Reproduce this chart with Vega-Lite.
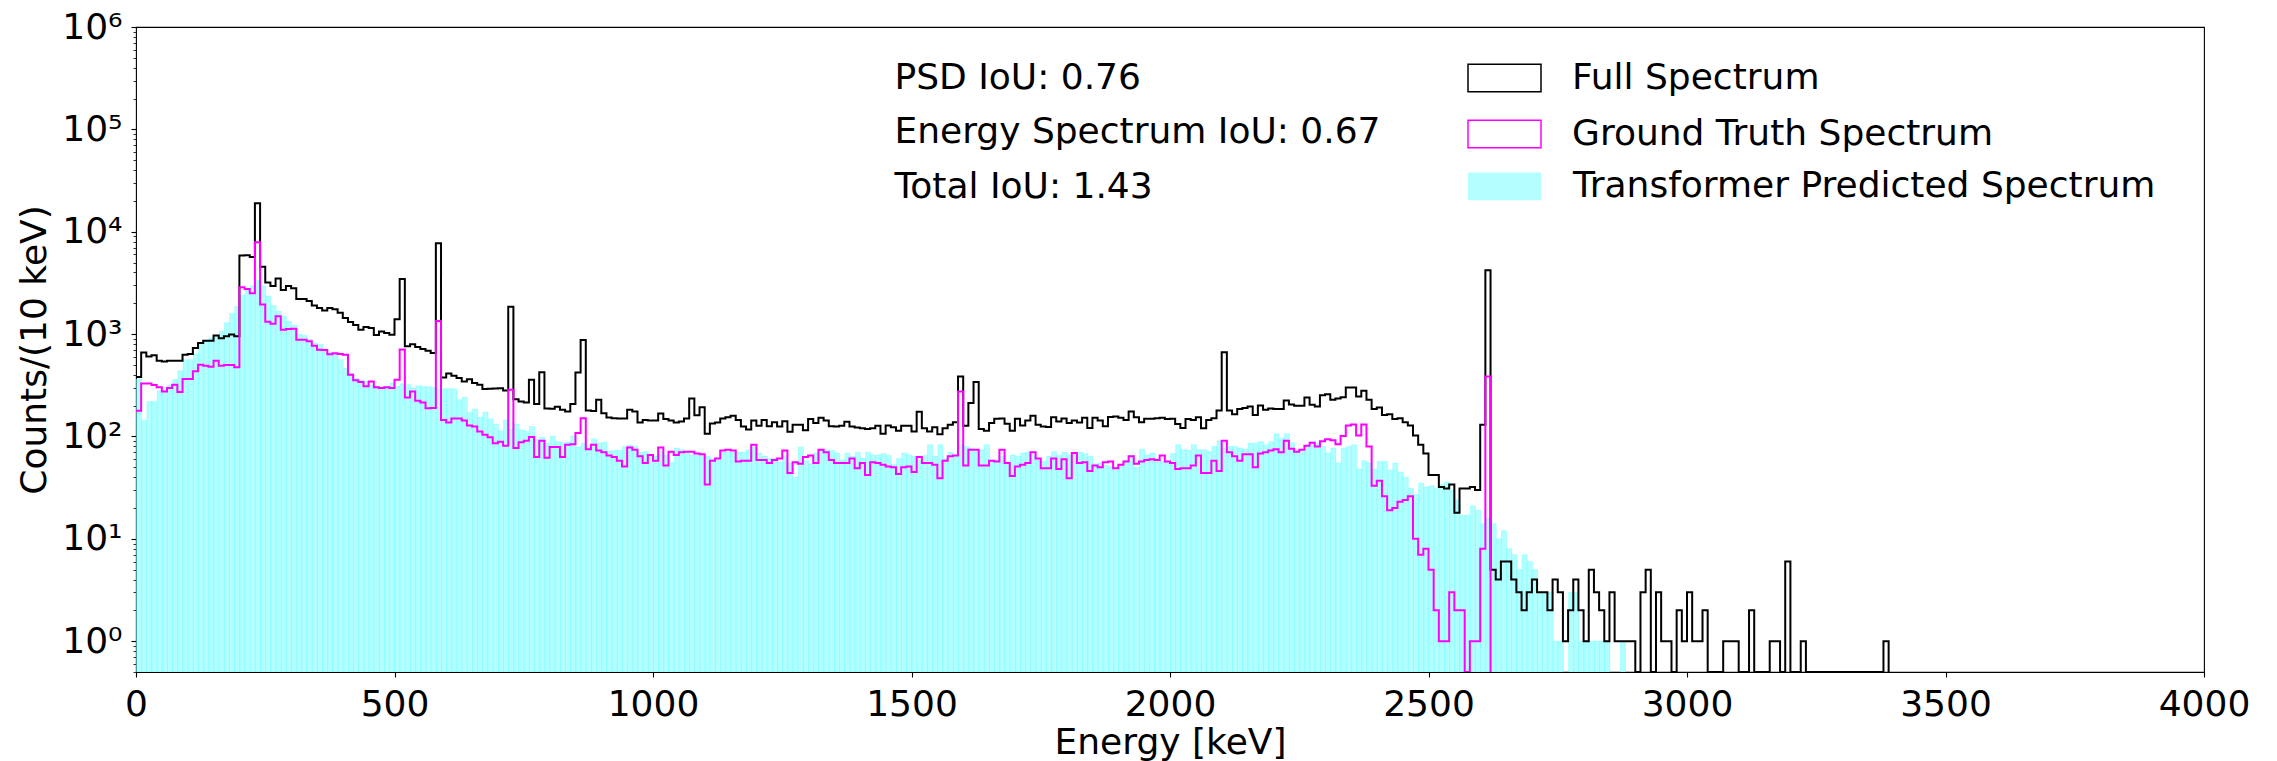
{
"$schema": "https://vega.github.io/schema/vega-lite/v6.json",
"width": 2068, "height": 645,
"autosize": {"type": "none"},
"padding": {"left": 136, "top": 27, "right": 73, "bottom": 89},
"background": "white",
"config": {
  "font": "DejaVu Sans",
  "view": {"stroke": "black", "strokeWidth": 1.1},
  "axis": {"grid": false, "domain": false, "tickColor": "black", "tickWidth": 1.1, "labelColor": "black", "titleColor": "black", "labelFont": "DejaVu Sans", "titleFont": "DejaVu Sans", "labelFontSize": 36, "titleFontSize": 36, "titleFontWeight": "normal"},
  "legend": {"labelFontSize": 36, "labelFont": "DejaVu Sans", "labelColor": "black", "labelLimit": 1000, "padding": 0}
},
"datasets": {
"full": [
{"e":0,"n":380},{"e":10,"n":660},{"e":20,"n":605},{"e":30,"n":620},{"e":40,"n":550},{"e":50,"n":540},{"e":60,"n":550},{"e":70,"n":550},{"e":80,"n":550},{"e":90,"n":630},
{"e":100,"n":640},{"e":110,"n":730},{"e":120,"n":820},{"e":130,"n":860},{"e":140,"n":860},{"e":150,"n":970},{"e":160,"n":910},{"e":170,"n":950},{"e":180,"n":990},{"e":190,"n":950},
{"e":200,"n":5850},{"e":210,"n":5900},{"e":220,"n":5650},{"e":230,"n":19000},{"e":240,"n":4550},{"e":250,"n":3200},{"e":260,"n":2950},{"e":270,"n":3500},{"e":280,"n":2700},{"e":290,"n":2950},
{"e":300,"n":2800},{"e":310,"n":2200},{"e":320,"n":2200},{"e":330,"n":2100},{"e":340,"n":1900},{"e":350,"n":1800},{"e":360,"n":1700},{"e":370,"n":1800},{"e":380,"n":1750},{"e":390,"n":1620},
{"e":400,"n":1440},{"e":410,"n":1310},{"e":420,"n":1230},{"e":430,"n":1100},{"e":440,"n":1170},{"e":450,"n":1150},{"e":460,"n":980},{"e":470,"n":1060},{"e":480,"n":1025},{"e":490,"n":987},
{"e":500,"n":1400},{"e":510,"n":3460},{"e":520,"n":759},{"e":530,"n":794},{"e":540,"n":747},{"e":550,"n":714},{"e":560,"n":688},{"e":570,"n":653},{"e":580,"n":7720},{"e":590,"n":377},
{"e":600,"n":413},{"e":610,"n":392},{"e":620,"n":372},{"e":630,"n":345},{"e":640,"n":363},{"e":650,"n":332},{"e":660,"n":320},{"e":670,"n":290},{"e":680,"n":292},{"e":690,"n":294},
{"e":700,"n":296},{"e":710,"n":281},{"e":720,"n":1854},{"e":730,"n":231},{"e":740,"n":220},{"e":750,"n":215},{"e":760,"n":358},{"e":770,"n":207},{"e":780,"n":425},{"e":790,"n":188},
{"e":800,"n":187},{"e":810,"n":195},{"e":820,"n":182},{"e":830,"n":175},{"e":840,"n":207},{"e":850,"n":422},{"e":860,"n":875},{"e":870,"n":179},{"e":880,"n":177},{"e":890,"n":228},
{"e":900,"n":169},{"e":910,"n":153},{"e":920,"n":151},{"e":930,"n":150},{"e":940,"n":150},{"e":950,"n":182},{"e":960,"n":175},{"e":970,"n":137},{"e":980,"n":145},{"e":990,"n":143},
{"e":1000,"n":143},{"e":1010,"n":168},{"e":1020,"n":148},{"e":1030,"n":143},{"e":1040,"n":137},{"e":1050,"n":140},{"e":1060,"n":150},{"e":1070,"n":235},{"e":1080,"n":161},{"e":1090,"n":193},
{"e":1100,"n":106},{"e":1110,"n":134},{"e":1120,"n":137},{"e":1130,"n":150},{"e":1140,"n":154},{"e":1150,"n":159},{"e":1160,"n":145},{"e":1170,"n":125},{"e":1180,"n":117},{"e":1190,"n":143},
{"e":1200,"n":127},{"e":1210,"n":145},{"e":1220,"n":126},{"e":1230,"n":138},{"e":1240,"n":125},{"e":1250,"n":141},{"e":1260,"n":111},{"e":1270,"n":130},{"e":1280,"n":130},{"e":1290,"n":115},
{"e":1300,"n":148},{"e":1310,"n":135},{"e":1320,"n":152},{"e":1330,"n":143},{"e":1340,"n":126},{"e":1350,"n":125},{"e":1360,"n":127},{"e":1370,"n":139},{"e":1380,"n":125},{"e":1390,"n":122},
{"e":1400,"n":120},{"e":1410,"n":118},{"e":1420,"n":120},{"e":1430,"n":127},{"e":1440,"n":106},{"e":1450,"n":128},{"e":1460,"n":123},{"e":1470,"n":114},{"e":1480,"n":127},{"e":1490,"n":127},
{"e":1500,"n":112},{"e":1510,"n":174},{"e":1520,"n":120},{"e":1530,"n":112},{"e":1540,"n":123},{"e":1550,"n":105},{"e":1560,"n":120},{"e":1570,"n":130},{"e":1580,"n":138},{"e":1590,"n":386},
{"e":1600,"n":127},{"e":1610,"n":212},{"e":1620,"n":340},{"e":1630,"n":118},{"e":1640,"n":114},{"e":1650,"n":135},{"e":1660,"n":149},{"e":1670,"n":150},{"e":1680,"n":133},{"e":1690,"n":114},
{"e":1700,"n":149},{"e":1710,"n":128},{"e":1720,"n":143},{"e":1730,"n":159},{"e":1740,"n":130},{"e":1750,"n":125},{"e":1760,"n":124},{"e":1770,"n":154},{"e":1780,"n":140},{"e":1790,"n":150},
{"e":1800,"n":135},{"e":1810,"n":143},{"e":1820,"n":137},{"e":1830,"n":152},{"e":1840,"n":121},{"e":1850,"n":152},{"e":1860,"n":143},{"e":1870,"n":126},{"e":1880,"n":155},{"e":1890,"n":157},
{"e":1900,"n":152},{"e":1910,"n":145},{"e":1920,"n":175},{"e":1930,"n":154},{"e":1940,"n":138},{"e":1950,"n":149},{"e":1960,"n":149},{"e":1970,"n":151},{"e":1980,"n":152},{"e":1990,"n":148},
{"e":2000,"n":149},{"e":2010,"n":132},{"e":2020,"n":121},{"e":2030,"n":148},{"e":2040,"n":145},{"e":2050,"n":154},{"e":2060,"n":120},{"e":2070,"n":145},{"e":2080,"n":151},{"e":2090,"n":179},
{"e":2100,"n":663},{"e":2110,"n":179},{"e":2120,"n":165},{"e":2130,"n":185},{"e":2140,"n":190},{"e":2150,"n":196},{"e":2160,"n":162},{"e":2170,"n":201},{"e":2180,"n":182},{"e":2190,"n":188},
{"e":2200,"n":185},{"e":2210,"n":185},{"e":2220,"n":225},{"e":2230,"n":205},{"e":2240,"n":199},{"e":2250,"n":199},{"e":2260,"n":240},{"e":2270,"n":204},{"e":2280,"n":196},{"e":2290,"n":253},
{"e":2300,"n":259},{"e":2310,"n":228},{"e":2320,"n":235},{"e":2330,"n":242},{"e":2340,"n":301},{"e":2350,"n":301},{"e":2360,"n":246},{"e":2370,"n":279},{"e":2380,"n":228},{"e":2390,"n":185},
{"e":2400,"n":192},{"e":2410,"n":162},{"e":2420,"n":165},{"e":2430,"n":148},{"e":2440,"n":151},{"e":2450,"n":138},{"e":2460,"n":128},{"e":2470,"n":102},{"e":2480,"n":83},{"e":2490,"n":68},
{"e":2500,"n":42},{"e":2510,"n":42},{"e":2520,"n":32},{"e":2530,"n":31},{"e":2540,"n":34},{"e":2550,"n":18},{"e":2560,"n":31},{"e":2570,"n":31},{"e":2580,"n":32},{"e":2590,"n":30},
{"e":2600,"n":130},{"e":2610,"n":4200},{"e":2620,"n":5},{"e":2630,"n":4},{"e":2640,"n":6},{"e":2650,"n":6},{"e":2660,"n":4},{"e":2670,"n":3},{"e":2680,"n":2},{"e":2690,"n":3},
{"e":2700,"n":4},{"e":2710,"n":3},{"e":2720,"n":3},{"e":2730,"n":2},{"e":2740,"n":4},{"e":2750,"n":3},{"e":2760,"n":1},{"e":2770,"n":2},{"e":2780,"n":4},{"e":2790,"n":2},
{"e":2800,"n":1},{"e":2810,"n":5},{"e":2820,"n":3},{"e":2830,"n":2},{"e":2840,"n":1},{"e":2850,"n":3},{"e":2860,"n":1},{"e":2870,"n":1},{"e":2880,"n":1},{"e":2890,"n":1},
{"e":2900,"n":0},{"e":2910,"n":3},{"e":2920,"n":5},{"e":2930,"n":0},{"e":2940,"n":3},{"e":2950,"n":1},{"e":2960,"n":1},{"e":2970,"n":0},{"e":2980,"n":2},{"e":2990,"n":1},
{"e":3000,"n":3},{"e":3010,"n":1},{"e":3020,"n":1},{"e":3030,"n":2},{"e":3040,"n":0},{"e":3050,"n":0},{"e":3060,"n":0},{"e":3070,"n":1},{"e":3080,"n":1},{"e":3090,"n":1},
{"e":3100,"n":0},{"e":3110,"n":0},{"e":3120,"n":2},{"e":3130,"n":0},{"e":3140,"n":0},{"e":3150,"n":0},{"e":3160,"n":1},{"e":3170,"n":1},{"e":3180,"n":0},{"e":3190,"n":6},
{"e":3200,"n":0},{"e":3210,"n":0},{"e":3220,"n":1},{"e":3230,"n":0},{"e":3240,"n":0},{"e":3250,"n":0},{"e":3260,"n":0},{"e":3270,"n":0},{"e":3280,"n":0},{"e":3290,"n":0},
{"e":3300,"n":0},{"e":3310,"n":0},{"e":3320,"n":0},{"e":3330,"n":0},{"e":3340,"n":0},{"e":3350,"n":0},{"e":3360,"n":0},{"e":3370,"n":0},{"e":3380,"n":1},{"e":3390,"n":0}
],
"truth": [
{"e":0,"n":178},{"e":10,"n":330},{"e":20,"n":330},{"e":30,"n":318},{"e":40,"n":303},{"e":50,"n":275},{"e":60,"n":297},{"e":70,"n":320},{"e":80,"n":272},{"e":90,"n":364},
{"e":100,"n":364},{"e":110,"n":433},{"e":120,"n":503},{"e":130,"n":490},{"e":140,"n":480},{"e":150,"n":550},{"e":160,"n":490},{"e":170,"n":500},{"e":180,"n":500},{"e":190,"n":475},
{"e":200,"n":2870},{"e":210,"n":2760},{"e":220,"n":2500},{"e":230,"n":7900},{"e":240,"n":1950},{"e":250,"n":1320},{"e":260,"n":1260},{"e":270,"n":1490},{"e":280,"n":1100},{"e":290,"n":1120},
{"e":300,"n":1130},{"e":310,"n":880},{"e":320,"n":880},{"e":330,"n":850},{"e":340,"n":770},{"e":350,"n":705},{"e":360,"n":700},{"e":370,"n":635},{"e":380,"n":650},{"e":390,"n":640},
{"e":400,"n":630},{"e":410,"n":400},{"e":420,"n":355},{"e":430,"n":340},{"e":440,"n":310},{"e":450,"n":345},{"e":460,"n":303},{"e":470,"n":297},{"e":480,"n":303},{"e":490,"n":297},
{"e":500,"n":358},{"e":510,"n":709},{"e":520,"n":240},{"e":530,"n":275},{"e":540,"n":223},{"e":550,"n":215},{"e":560,"n":189},{"e":570,"n":190},{"e":580,"n":1343},{"e":590,"n":145},
{"e":600,"n":137},{"e":610,"n":150},{"e":620,"n":150},{"e":630,"n":143},{"e":640,"n":128},{"e":650,"n":125},{"e":660,"n":112},{"e":670,"n":104},{"e":680,"n":98},{"e":690,"n":86},
{"e":700,"n":89},{"e":710,"n":81},{"e":720,"n":286},{"e":730,"n":77},{"e":740,"n":88},{"e":750,"n":91},{"e":760,"n":99},{"e":770,"n":63},{"e":780,"n":91},{"e":790,"n":62},
{"e":800,"n":79},{"e":810,"n":79},{"e":820,"n":63},{"e":830,"n":83},{"e":840,"n":84},{"e":850,"n":108},{"e":860,"n":151},{"e":870,"n":75},{"e":880,"n":83},{"e":890,"n":73},
{"e":900,"n":70},{"e":910,"n":65},{"e":920,"n":63},{"e":930,"n":58},{"e":940,"n":51},{"e":950,"n":78},{"e":960,"n":74},{"e":970,"n":64},{"e":980,"n":55},{"e":990,"n":66},
{"e":1000,"n":58},{"e":1010,"n":78},{"e":1020,"n":52},{"e":1030,"n":71},{"e":1040,"n":66},{"e":1050,"n":70},{"e":1060,"n":71},{"e":1070,"n":71},{"e":1080,"n":68},{"e":1090,"n":67},
{"e":1100,"n":34},{"e":1110,"n":58},{"e":1120,"n":61},{"e":1130,"n":73},{"e":1140,"n":74},{"e":1150,"n":73},{"e":1160,"n":57},{"e":1170,"n":58},{"e":1180,"n":58},{"e":1190,"n":83},
{"e":1200,"n":59},{"e":1210,"n":59},{"e":1220,"n":55},{"e":1230,"n":59},{"e":1240,"n":61},{"e":1250,"n":73},{"e":1260,"n":44},{"e":1270,"n":56},{"e":1280,"n":54},{"e":1290,"n":63},
{"e":1300,"n":65},{"e":1310,"n":55},{"e":1320,"n":74},{"e":1330,"n":70},{"e":1340,"n":59},{"e":1350,"n":55},{"e":1360,"n":55},{"e":1370,"n":55},{"e":1380,"n":61},{"e":1390,"n":49},
{"e":1400,"n":55},{"e":1410,"n":42},{"e":1420,"n":56},{"e":1430,"n":55},{"e":1440,"n":53},{"e":1450,"n":51},{"e":1460,"n":50},{"e":1470,"n":43},{"e":1480,"n":50},{"e":1490,"n":51},
{"e":1500,"n":45},{"e":1510,"n":63},{"e":1520,"n":55},{"e":1530,"n":55},{"e":1540,"n":53},{"e":1550,"n":39},{"e":1560,"n":58},{"e":1570,"n":64},{"e":1580,"n":65},{"e":1590,"n":275},
{"e":1600,"n":52},{"e":1610,"n":74},{"e":1620,"n":74},{"e":1630,"n":52},{"e":1640,"n":52},{"e":1650,"n":58},{"e":1660,"n":57},{"e":1670,"n":74},{"e":1680,"n":55},{"e":1690,"n":41},
{"e":1700,"n":51},{"e":1710,"n":53},{"e":1720,"n":55},{"e":1730,"n":70},{"e":1740,"n":61},{"e":1750,"n":49},{"e":1760,"n":49},{"e":1770,"n":61},{"e":1780,"n":48},{"e":1790,"n":60},
{"e":1800,"n":39},{"e":1810,"n":69},{"e":1820,"n":55},{"e":1830,"n":56},{"e":1840,"n":46},{"e":1850,"n":52},{"e":1860,"n":50},{"e":1870,"n":56},{"e":1880,"n":57},{"e":1890,"n":49},
{"e":1900,"n":53},{"e":1910,"n":57},{"e":1920,"n":64},{"e":1930,"n":54},{"e":1940,"n":57},{"e":1950,"n":59},{"e":1960,"n":60},{"e":1970,"n":59},{"e":1980,"n":65},{"e":1990,"n":57},
{"e":2000,"n":55},{"e":2010,"n":48},{"e":2020,"n":49},{"e":2030,"n":49},{"e":2040,"n":52},{"e":2050,"n":65},{"e":2060,"n":44},{"e":2070,"n":44},{"e":2080,"n":58},{"e":2090,"n":46},
{"e":2100,"n":91},{"e":2110,"n":70},{"e":2120,"n":64},{"e":2130,"n":58},{"e":2140,"n":67},{"e":2150,"n":67},{"e":2160,"n":50},{"e":2170,"n":68},{"e":2180,"n":70},{"e":2190,"n":73},
{"e":2200,"n":75},{"e":2210,"n":70},{"e":2220,"n":91},{"e":2230,"n":76},{"e":2240,"n":71},{"e":2250,"n":74},{"e":2260,"n":81},{"e":2270,"n":87},{"e":2280,"n":80},{"e":2290,"n":90},
{"e":2300,"n":94},{"e":2310,"n":92},{"e":2320,"n":84},{"e":2330,"n":101},{"e":2340,"n":128},{"e":2350,"n":131},{"e":2360,"n":102},{"e":2370,"n":131},{"e":2380,"n":80},{"e":2390,"n":33},
{"e":2400,"n":37},{"e":2410,"n":26},{"e":2420,"n":19},{"e":2430,"n":20},{"e":2440,"n":23},{"e":2450,"n":24},{"e":2460,"n":26},{"e":2470,"n":10},{"e":2480,"n":7},{"e":2490,"n":8},
{"e":2500,"n":5},{"e":2510,"n":2},{"e":2520,"n":1},{"e":2530,"n":1},{"e":2540,"n":3},{"e":2550,"n":2},{"e":2560,"n":2},{"e":2570,"n":0},{"e":2580,"n":1},{"e":2590,"n":1},
{"e":2600,"n":8},{"e":2610,"n":386},{"e":2620,"n":0}
],
"pred": [
{"e":0,"n":364},{"e":10,"n":143},{"e":20,"n":220},{"e":30,"n":220},{"e":40,"n":280},{"e":50,"n":300},{"e":60,"n":318},{"e":70,"n":360},{"e":80,"n":438},{"e":90,"n":563},
{"e":100,"n":563},{"e":110,"n":640},{"e":120,"n":815},{"e":130,"n":850},{"e":140,"n":915},{"e":150,"n":950},{"e":160,"n":1060},{"e":170,"n":1290},{"e":180,"n":1590},{"e":190,"n":1860},
{"e":200,"n":2400},{"e":210,"n":2700},{"e":220,"n":2960},{"e":230,"n":3330},{"e":240,"n":2960},{"e":250,"n":2350},{"e":260,"n":1900},{"e":270,"n":1670},{"e":280,"n":1490},{"e":290,"n":1330},
{"e":300,"n":1220},{"e":310,"n":1000},{"e":320,"n":970},{"e":330,"n":890},{"e":340,"n":815},{"e":350,"n":790},{"e":360,"n":705},{"e":370,"n":660},{"e":380,"n":640},{"e":390,"n":563},
{"e":400,"n":465},{"e":410,"n":415},{"e":420,"n":370},{"e":430,"n":355},{"e":440,"n":345},{"e":450,"n":318},{"e":460,"n":307},{"e":470,"n":300},{"e":480,"n":310},{"e":490,"n":332},
{"e":500,"n":308},{"e":510,"n":327},{"e":520,"n":320},{"e":530,"n":297},{"e":540,"n":313},{"e":550,"n":308},{"e":560,"n":306},{"e":570,"n":301},{"e":580,"n":292},{"e":590,"n":292},
{"e":600,"n":294},{"e":610,"n":290},{"e":620,"n":228},{"e":630,"n":242},{"e":640,"n":171},{"e":650,"n":185},{"e":660,"n":154},{"e":670,"n":173},{"e":680,"n":148},{"e":690,"n":132},
{"e":700,"n":114},{"e":710,"n":145},{"e":720,"n":118},{"e":730,"n":132},{"e":740,"n":116},{"e":750,"n":112},{"e":760,"n":125},{"e":770,"n":93},{"e":780,"n":98},{"e":790,"n":86},
{"e":800,"n":101},{"e":810,"n":89},{"e":820,"n":87},{"e":830,"n":88},{"e":840,"n":101},{"e":850,"n":79},{"e":860,"n":86},{"e":870,"n":80},{"e":880,"n":95},{"e":890,"n":86},
{"e":900,"n":88},{"e":910,"n":72},{"e":920,"n":73},{"e":930,"n":73},{"e":940,"n":80},{"e":950,"n":82},{"e":960,"n":80},{"e":970,"n":70},{"e":980,"n":71},{"e":990,"n":66},
{"e":1000,"n":64},{"e":1010,"n":71},{"e":1020,"n":66},{"e":1030,"n":56},{"e":1040,"n":77},{"e":1050,"n":74},{"e":1060,"n":71},{"e":1070,"n":66},{"e":1080,"n":65},{"e":1090,"n":65},
{"e":1100,"n":64},{"e":1110,"n":60},{"e":1120,"n":59},{"e":1130,"n":70},{"e":1140,"n":70},{"e":1150,"n":70},{"e":1160,"n":70},{"e":1170,"n":70},{"e":1180,"n":74},{"e":1190,"n":78},
{"e":1200,"n":69},{"e":1210,"n":64},{"e":1220,"n":61},{"e":1230,"n":61},{"e":1240,"n":56},{"e":1250,"n":64},{"e":1260,"n":55},{"e":1270,"n":40},{"e":1280,"n":79},{"e":1290,"n":58},
{"e":1300,"n":54},{"e":1310,"n":69},{"e":1320,"n":75},{"e":1330,"n":74},{"e":1340,"n":73},{"e":1350,"n":69},{"e":1360,"n":59},{"e":1370,"n":69},{"e":1380,"n":64},{"e":1390,"n":70},
{"e":1400,"n":61},{"e":1410,"n":70},{"e":1420,"n":66},{"e":1430,"n":66},{"e":1440,"n":68},{"e":1450,"n":65},{"e":1460,"n":53},{"e":1470,"n":61},{"e":1480,"n":69},{"e":1490,"n":66},
{"e":1500,"n":64},{"e":1510,"n":58},{"e":1520,"n":65},{"e":1530,"n":83},{"e":1540,"n":64},{"e":1550,"n":83},{"e":1560,"n":61},{"e":1570,"n":70},{"e":1580,"n":64},{"e":1590,"n":83},
{"e":1600,"n":80},{"e":1610,"n":77},{"e":1620,"n":71},{"e":1630,"n":74},{"e":1640,"n":83},{"e":1650,"n":59},{"e":1660,"n":59},{"e":1670,"n":64},{"e":1680,"n":55},{"e":1690,"n":66},
{"e":1700,"n":64},{"e":1710,"n":69},{"e":1720,"n":70},{"e":1730,"n":65},{"e":1740,"n":59},{"e":1750,"n":57},{"e":1760,"n":64},{"e":1770,"n":71},{"e":1780,"n":65},{"e":1790,"n":70},
{"e":1800,"n":66},{"e":1810,"n":69},{"e":1820,"n":70},{"e":1830,"n":68},{"e":1840,"n":64},{"e":1850,"n":54},{"e":1860,"n":55},{"e":1870,"n":52},{"e":1880,"n":51},{"e":1890,"n":49},
{"e":1900,"n":52},{"e":1910,"n":59},{"e":1920,"n":66},{"e":1930,"n":50},{"e":1940,"n":75},{"e":1950,"n":66},{"e":1960,"n":69},{"e":1970,"n":59},{"e":1980,"n":57},{"e":1990,"n":57},
{"e":2000,"n":68},{"e":2010,"n":83},{"e":2020,"n":74},{"e":2030,"n":73},{"e":2040,"n":83},{"e":2050,"n":74},{"e":2060,"n":74},{"e":2070,"n":71},{"e":2080,"n":80},{"e":2090,"n":91},
{"e":2100,"n":77},{"e":2110,"n":80},{"e":2120,"n":80},{"e":2130,"n":77},{"e":2140,"n":75},{"e":2150,"n":86},{"e":2160,"n":86},{"e":2170,"n":89},{"e":2180,"n":83},{"e":2190,"n":89},
{"e":2200,"n":106},{"e":2210,"n":96},{"e":2220,"n":106},{"e":2230,"n":87},{"e":2240,"n":73},{"e":2250,"n":71},{"e":2260,"n":79},{"e":2270,"n":89},{"e":2280,"n":86},{"e":2290,"n":80},
{"e":2300,"n":69},{"e":2310,"n":77},{"e":2320,"n":55},{"e":2330,"n":77},{"e":2340,"n":80},{"e":2350,"n":83},{"e":2360,"n":48},{"e":2370,"n":58},{"e":2380,"n":55},{"e":2390,"n":48},
{"e":2400,"n":57},{"e":2410,"n":57},{"e":2420,"n":47},{"e":2430,"n":55},{"e":2440,"n":45},{"e":2450,"n":40},{"e":2460,"n":31},{"e":2470,"n":27},{"e":2480,"n":35},{"e":2490,"n":32},
{"e":2500,"n":33},{"e":2510,"n":31},{"e":2520,"n":34},{"e":2530,"n":36},{"e":2540,"n":30},{"e":2550,"n":24},{"e":2560,"n":17},{"e":2570,"n":17},{"e":2580,"n":21},{"e":2590,"n":19},
{"e":2600,"n":14},{"e":2610,"n":16},{"e":2620,"n":14},{"e":2630,"n":10},{"e":2640,"n":12},{"e":2650,"n":8},{"e":2660,"n":7},{"e":2670,"n":5},{"e":2680,"n":7},{"e":2690,"n":6},
{"e":2700,"n":5},{"e":2710,"n":3},{"e":2720,"n":3},{"e":2730,"n":3},{"e":2740,"n":1},{"e":2750,"n":1},{"e":2770,"n":3},{"e":2780,"n":3},{"e":2790,"n":1},
{"e":2800,"n":1},{"e":2810,"n":1},{"e":2820,"n":1},{"e":2830,"n":1},{"e":2840,"n":1},{"e":2870,"n":1}
]
},
"layer": [
{
  "data": {"name": "pred"},
  "mark": {"type": "bar", "binSpacing": 0, "stroke": "#00ffff", "strokeOpacity": 0.25, "strokeWidth": 0.8, "clip": true},
  "encoding": {
    "x": {"field": "e", "type": "quantitative", "bin": {"binned": true, "step": 10},
      "scale": {"domain": [0, 4000], "nice": false, "zero": false},
      "axis": {"title": "Energy [keV]", "values": [0,500,1000,1500,2000,2500,3000,3500,4000], "format": "d", "tickSize": 5, "labelPadding": 10, "labelFlush": false, "labelOverlap": false, "titleY": 81, "titleBaseline": "alphabetic"}},
    "y": {"field": "n", "type": "quantitative",
      "scale": {"type": "log", "domain": [0.5, 1000000], "clamp": true, "nice": false},
      "axis": {"title": "Counts/(10 keV)",
        "values": [0.5,0.6,0.7,0.8,0.9,1,2,3,4,5,6,7,8,9,10,20,30,40,50,60,70,80,90,100,200,300,400,500,600,700,800,900,1000,2000,3000,4000,5000,6000,7000,8000,9000,10000,20000,30000,40000,50000,60000,70000,80000,90000,100000,200000,300000,400000,500000,600000,700000,800000,900000,1000000],
        "labelExpr": "abs(log(datum.value)/LN10 - round(log(datum.value)/LN10)) < 0.001 ? '10' + ['⁰','¹','²','³','⁴','⁵','⁶'][round(log(datum.value)/LN10)] : ''",
        "tickSize": {"condition": {"test": "abs(log(datum.value)/LN10 - round(log(datum.value)/LN10)) < 0.001", "value": 5}, "value": 3},
        "tickWidth": {"condition": {"test": "abs(log(datum.value)/LN10 - round(log(datum.value)/LN10)) < 0.001", "value": 1.1}, "value": 0.8},
        "labelPadding": 9, "labelOverlap": false, "labelFlush": false,
        "titleX": -91, "titleY": 322.5, "titleAngle": 270, "titleBaseline": "alphabetic", "titleAlign": "center"}},
    "fill": {"datum": "Transformer Predicted Spectrum", "type": "nominal",
      "scale": {"domain": ["Transformer Predicted Spectrum"], "range": ["#b3ffff"]},
      "legend": {"title": null, "orient": "none", "legendX": 1332, "legendY": 122.8, "direction": "vertical",
        "symbolType": "M-1,-0.38H1V0.38H-1Z", "symbolSize": 5329, "symbolStrokeWidth": 0, "symbolStrokeColor": "transparent", "symbolOpacity": 1,
        "labelOffset": 32}}
  }
},
{
  "data": {"name": "full"},
  "mark": {"type": "line", "interpolate": "step-after", "strokeWidth": 2, "clip": true, "invalid": null},
  "encoding": {
    "x": {"field": "e", "type": "quantitative"},
    "y": {"field": "n", "type": "quantitative"},
    "stroke": {"datum": "Full Spectrum", "type": "nominal",
      "scale": {"domain": ["Full Spectrum", "Ground Truth Spectrum"], "range": ["#000000", "#ff00ff"]},
      "legend": {"title": null, "orient": "none", "legendX": 1331, "legendY": 13.5, "direction": "vertical",
        "symbolType": "M-1,-0.38H1V0.38H-1Z", "symbolSize": 5329, "symbolStrokeWidth": 1.5, "symbolFillColor": "transparent", "symbolOpacity": 1,
        "labelOffset": 30, "rowPadding": -1.5}}
  }
},
{
  "data": {"name": "truth"},
  "mark": {"type": "line", "interpolate": "step-after", "strokeWidth": 2, "clip": true, "invalid": null},
  "encoding": {
    "x": {"field": "e", "type": "quantitative"},
    "y": {"field": "n", "type": "quantitative"},
    "stroke": {"datum": "Ground Truth Spectrum", "type": "nominal"}
  }
},
{
  "data": {"values": [{}]},
  "mark": {"type": "text", "align": "left", "baseline": "alphabetic", "fontSize": 36, "lineHeight": 54.5, "font": "DejaVu Sans", "color": "black"},
  "encoding": {
    "x": {"datum": 1467, "type": "quantitative"},
    "y": {"datum": 248000, "type": "quantitative"},
    "text": {"value": ["PSD IoU: 0.76", "Energy Spectrum IoU: 0.67", "Total IoU: 1.43"]}
  }
}
]
}
